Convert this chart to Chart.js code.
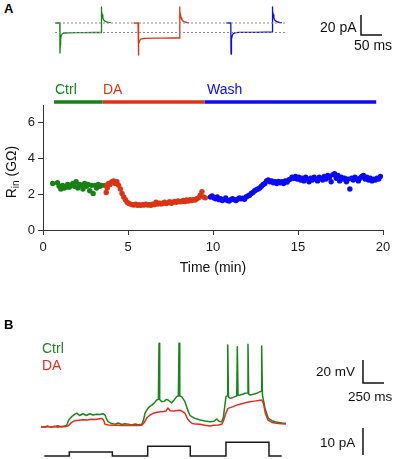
<!DOCTYPE html>
<html><head><meta charset="utf-8">
<script src="https://cdn.jsdelivr.net/npm/chart.js@4.4.1/dist/chart.umd.min.js"></script>
<style>
html,body{margin:0;padding:0;background:#fff;}
#fig{position:relative;width:397px;height:459px;overflow:hidden;background:#fff;font-family:"Liberation Sans",Arial,Helvetica,sans-serif;}
canvas{position:absolute;}
.t{position:absolute;white-space:nowrap;color:#111;}
</style></head>
<body><div id="fig">
<canvas id="cTop" width="352" height="62" style="left:45px;top:0px"></canvas>
<canvas id="cA" width="397" height="210" style="left:0px;top:70px"></canvas>
<canvas id="cB" width="367" height="129" style="left:30px;top:330px"></canvas>
</div>
<script>
// ---------------- DATA ----------------
// Panel A inset: voltage-clamp current sweeps (time relative to step onset, ms; current, pA)
const sweepNames = ['Ctrl', 'DA', 'Wash'];
const sweepOnset = [0, 186.4, 407.2];          // ms, sweep placement along the strip
const sweepTime = [-11, -0.5, 0, 0.6, 1.5, 3, 5, 8, 12, 20, 40, 60, 80, 98, 98.5, 99.2, 100.5, 102, 104, 107, 111, 116, 121];
const sweepCtrl = [0, 0, -30, -22, -16, -12.5, -11, -10.2, -10, -9.8, -9.7, -9.6, -9.5, -9.5, 16, 12, 8, 5, 3, 1.8, 1, 0.6, 0.4];
const sweepDA   = [0, 0, -32, -26, -21, -18, -16.5, -15.8, -15.5, -15.3, -15.2, -15.1, -15, -15, 16, 12, 8, 5, 3, 1.8, 1, 0.6, 0.4];
const sweepWash = [0, 0, -31, -23, -16, -12.5, -10.8, -10, -9.6, -9.4, -9.3, -9.3, -9.2, -9.2, 16, 12, 8, 5, 3, 1.8, 1, 0.6, 0.4];
const refLevels = [0, -9.5];                    // pA, dotted reference lines
const refSpan = [-11.9, 538];                   // ms
const insetBar = {pA: 20, ms: 50, atMs: 716.7, atPA: -12};

// Panel A main: input resistance over time
const ctrlTime = [0.57, 0.85, 0.95, 1.05, 1.15, 1.25, 1.35, 1.45, 1.55, 1.65, 1.75, 1.85, 1.95, 2.05, 2.15, 2.25, 2.35, 2.45, 2.55, 2.65, 2.75, 2.85, 2.95, 3.05, 3.15, 3.25, 3.35, 3.45];
const ctrlRin  = [2.6, 2.65, 2.45, 2.3, 2.5, 2.35, 2.4, 2.55, 2.4, 2.5, 2.6, 2.45, 2.7, 2.35, 2.55, 2.5, 2.3, 2.6, 2.45, 2.55, 2.2, 2.5, 2.05, 2.5, 2.35, 2.55, 2.45, 2.5];
const daTime = [3.65, 3.72, 3.78, 3.85, 3.95, 4.05, 4.15, 4.25, 4.35, 4.45, 4.55, 4.65, 4.75, 4.85, 4.95, 5.05, 5.15, 5.25, 5.35, 5.45, 5.55, 5.65, 5.75, 5.85, 5.95, 6.05, 6.15, 6.25, 6.35, 6.45, 6.55, 6.65, 6.75, 6.85, 6.95, 7.05, 7.15, 7.25, 7.35, 7.45, 7.55, 7.65, 7.75, 7.85, 7.95, 8.05, 8.15, 8.25, 8.35, 8.45, 8.55, 8.65, 8.75, 8.85, 8.95, 9.05, 9.15, 9.25, 9.35, 9.45, 9.55];
const daRin  = [2.5, 2.1, 2.35, 2.6, 2.55, 2.7, 2.75, 2.6, 2.7, 2.5, 2.3, 2.05, 1.85, 1.7, 1.55, 1.48, 1.45, 1.42, 1.4, 1.45, 1.38, 1.42, 1.38, 1.42, 1.4, 1.45, 1.4, 1.42, 1.38, 1.45, 1.42, 1.55, 1.45, 1.5, 1.45, 1.5, 1.55, 1.48, 1.52, 1.58, 1.5, 1.55, 1.6, 1.55, 1.62, 1.58, 1.6, 1.65, 1.6, 1.68, 1.62, 1.7, 1.65, 1.7, 1.68, 1.75, 1.8, 1.95, 2.15, 1.85, 1.8];
const washTime = [9.85, 9.95, 10.05, 10.15, 10.25, 10.35, 10.45, 10.55, 10.65, 10.75,
  10.85, 10.95, 11.05, 11.15, 11.25, 11.35, 11.45, 11.55, 11.65, 11.75,
  11.85, 11.95, 12.05, 12.15, 12.25, 12.35, 12.45, 12.55, 12.65, 12.75,
  12.85, 12.95, 13.05, 13.15, 13.25, 13.35, 13.45, 13.55, 13.65, 13.75,
  13.85, 13.95, 14.05, 14.15, 14.25, 14.35, 14.45, 14.55, 14.65, 14.75,
  14.85, 14.95, 15.05, 15.15, 15.25, 15.35, 15.45, 15.55, 15.65, 15.75,
  15.85, 15.95, 16.05, 16.15, 16.25, 16.35, 16.45, 16.55, 16.65, 16.75,
  16.85, 16.95, 17.05, 17.15, 17.25, 17.35, 17.45, 17.55, 17.65, 17.75,
  17.85, 17.95, 18.05, 18.15, 18.25, 18.35, 18.45, 18.55, 18.65, 18.75,
  18.85, 18.95, 19.05, 19.15, 19.25, 19.35, 19.45, 19.55, 19.65, 19.75,
  19.85];
const washRin = [1.85, 1.9, 1.8, 1.75, 1.85, 1.7, 1.75, 1.65, 1.7, 1.8,
  1.65, 1.62, 1.7, 1.75, 1.7, 1.65, 1.72, 1.8, 1.75, 1.78,
  1.72, 1.85, 1.9, 1.95, 2.05, 2.1, 2.2, 2.25, 2.3, 2.35,
  2.45, 2.55, 2.6, 2.75, 2.8, 2.7, 2.75, 2.65, 2.7, 2.6,
  2.72, 2.65, 2.7, 2.6, 2.75, 2.68, 2.8, 2.85, 2.95, 2.9,
  3.0, 2.85, 2.95, 2.8, 2.9, 2.75, 2.95, 2.85, 2.7, 2.9,
  2.8, 2.95, 2.85, 2.75, 2.95, 2.9, 2.8, 3.0, 2.85, 3.05,
  2.95, 2.7, 3.1, 3.15, 2.9, 3.05, 2.75, 2.95, 2.85, 2.9,
  2.7, 2.85, 2.3, 2.9, 2.8, 2.95, 2.85, 2.75, 2.9, 3.0,
  3.05, 2.85, 2.95, 2.8, 2.9, 2.75, 2.85, 2.8, 2.9, 2.85,
  3.0];
const phaseNames = ['Ctrl', 'DA', 'Wash'];
const phaseStart = [0.65, 3.5, 9.5];   // min
const phaseEnd   = [3.5, 9.5, 19.6];   // min
const xTicks = [0, 5, 10, 15, 20];
const yTicks = [0, 2, 4, 6];

// Panel B: current-clamp responses (time ms; membrane potential relative to rest, mV)
const ctrlVmTime = [0, 40, 80, 120, 160, 200, 240, 280, 306, 330, 365, 400, 425, 460, 500, 540, 580, 620, 660, 700, 740, 762, 780, 798, 840, 880, 920, 960, 1000, 1040, 1080, 1120, 1160, 1199, 1220, 1238, 1270, 1298, 1320, 1350, 1377, 1397, 1405, 1413, 1437, 1470, 1490, 1512, 1556, 1590, 1615, 1635, 1643, 1652, 1675, 1714, 1750, 1774, 1794, 1830, 1869, 1893, 1950, 2012, 2060, 2092, 2120, 2151, 2170, 2202, 2216, 2223, 2232, 2250, 2280, 2310, 2330, 2337, 2346, 2369, 2400, 2429, 2456, 2464, 2473, 2488, 2530, 2568, 2607, 2620, 2627, 2636, 2667, 2690, 2706, 2750, 2786, 2830, 2870, 2917];
const ctrlVm = [0.5, 0, 0.8, -0.3, 0.5, 1, 0.2, 0.8, 1.5, 6, 9, 11, 12, 10, 11.5, 10, 11.5, 10.5, 11, 10.8, 11.5, 10.4, 7, 4.6, 3, 2.5, 3.5, 2.2, 2.8, 2.5, 1.8, 2.6, 2, 2.3, 6, 12, 16, 18, 19, 21, 23.5, 24, 72.8, 24, 22, 22.5, 24, 23.5, 21, 24, 26.4, 27, 72.8, 27, 26.4, 22, 14, 10, 9, 7.5, 6.7, 6, 5.2, 4.6, 5, 7, 5, 4.6, 8, 26.4, 27, 71.3, 26, 25, 25.5, 26.4, 27, 69.8, 27.5, 27.8, 28.5, 29.3, 29.5, 71.9, 28.5, 27.8, 28.5, 29.3, 30.7, 31, 70.4, 28, 16.2, 11, 7.5, 5.5, 4.6, 4, 3.5, 3.2];
const daVmTime = [0, 40, 80, 120, 160, 200, 240, 280, 325, 365, 405, 450, 500, 550, 600, 650, 700, 723, 745, 762, 800, 850, 900, 950, 1000, 1050, 1100, 1150, 1199, 1230, 1260, 1298, 1340, 1380, 1420, 1460, 1490, 1512, 1540, 1580, 1620, 1660, 1675, 1714, 1745, 1774, 1800, 1840, 1893, 1950, 2012, 2060, 2110, 2151, 2170, 2200, 2226, 2280, 2330, 2380, 2430, 2488, 2540, 2590, 2627, 2650, 2670, 2702, 2750, 2806, 2860, 2917];
const daVm = [0.3, -0.3, 0.5, 0, 0.4, -0.2, 0.5, 0.2, 1, 4, 5.5, 5.8, 6.2, 6, 6.8, 6.6, 7.2, 7.5, 6, 2.3, 1.8, 1.5, 1.8, 1.3, 1.6, 1.2, 1.5, 1.3, 1.5, 4, 8, 10.4, 12, 12.8, 13.3, 13.5, 14, 16.5, 14.2, 14, 14.3, 14.5, 13.9, 12, 7, 4.6, 3, 2.5, 2.3, 1.5, 0.9, 1.5, 1.8, 2.3, 5, 12, 16.2, 17.5, 19, 20, 21, 22, 22.5, 23, 23.5, 20, 12, 6, 4, 3.2, 2.8, 2.6];
const injTime = [39, 337, 849, 1270, 1777, 2202, 2714, 2866];
const injPA   = [0, 1.5, 0, 3.6, 0, 5.1, 0, 0];
const bBar = {mV: 20, ms: 250, pA: 10, atMs: 3833, atMV: 38.26, atPA: 0.4};

// ---------------- STYLE ----------------
const FONT = '"Liberation Sans", Arial, Helvetica, sans-serif';
Chart.defaults.font.family = FONT;
Chart.defaults.animation = false;
const GREEN = '#168216', RED = '#dc3412', BLUE = '#0a0af5';
const B_GREEN = '#1a861a', B_RED = '#ea2a1e';
const noPlug = {legend: {display: false}, tooltip: {enabled: false}};
const pts = (xs, ys, off) => xs.map((x, i) => ({x: x + (off || 0), y: ys[i]}));
const lineDs = (data, color, w, extra) => Object.assign({type: 'line', data, borderColor: color, borderWidth: w, pointRadius: 0, fill: false, tension: 0, borderJoinStyle: 'round', clip: false}, extra || {});
const hidden = (min, max) => ({type: 'linear', display: false, min, max});

// ---------------- INSET (top) ----------------
const sweepColors = [GREEN, RED, BLUE];
const sweepVals = [sweepCtrl, sweepDA, sweepWash];
const topDs = [];
refLevels.forEach(l => topDs.push(lineDs([{x: refSpan[0], y: l}, {x: refSpan[1], y: l}], '#8c8c8c', 1, {borderDash: [2, 2]})));
sweepVals.forEach((v, i) => topDs.push(lineDs(pts(sweepTime, v, sweepOnset[i]), sweepColors[i], 1.3)));
topDs.push(lineDs([{x: insetBar.atMs, y: insetBar.atPA + insetBar.pA}, {x: insetBar.atMs, y: insetBar.atPA}, {x: insetBar.atMs + insetBar.ms, y: insetBar.atPA}], '#111', 1.5, {borderJoinStyle: 'miter'}));
new Chart(document.getElementById('cTop'), {
  type: 'line', data: {datasets: topDs},
  options: {responsive: false, devicePixelRatio: 1, animation: false, plugins: noPlug, layout: {padding: 0},
    scales: {x: hidden(-35.7, 802.4), y: hidden(-39, 23)}}
});

// ---------------- PANEL A main ----------------
const phaseColors = [GREEN, RED, BLUE];
const BAR_LEVEL = 7.17;
const aDs = [
  {type: 'scatter', data: pts(ctrlTime, ctrlRin), backgroundColor: GREEN, borderColor: GREEN, pointRadius: 2.7, pointBorderWidth: 0},
  {type: 'scatter', data: pts(daTime, daRin), backgroundColor: RED, borderColor: RED, pointRadius: 2.7, pointBorderWidth: 0},
  {type: 'scatter', data: pts(washTime, washRin), backgroundColor: BLUE, borderColor: BLUE, pointRadius: 2.7, pointBorderWidth: 0}
];
phaseNames.forEach((n, i) => aDs.push(lineDs([{x: phaseStart[i], y: BAR_LEVEL}, {x: phaseEnd[i], y: BAR_LEVEL}], phaseColors[i], 3.4, {borderCapStyle: 'butt'})));
const axisCommon = {
  grid: {drawOnChartArea: false, drawTicks: true, tickLength: 5, color: '#333', lineWidth: 1},
  border: {display: true, color: '#333', width: 1}
};
new Chart(document.getElementById('cA'), {
  type: 'scatter', data: {datasets: aDs},
  options: {responsive: false, devicePixelRatio: 1, animation: false, plugins: noPlug,
    layout: {padding: {top: 35, right: 14, left: 0, bottom: 0}},
    scales: {
      x: Object.assign({type: 'linear', min: xTicks[0], max: xTicks[xTicks.length - 1],
        ticks: {stepSize: 5, color: '#1a1a1a', font: {size: 13}, padding: 5, maxRotation: 0},
        afterBuildTicks: s => { s.ticks = xTicks.map(v => ({value: v})); },
        afterFit: s => { s.height = 50; }}, axisCommon),
      y: Object.assign({type: 'linear', min: 0, max: 7,
        ticks: {stepSize: 2, color: '#1a1a1a', font: {size: 13}, padding: 3},
        afterBuildTicks: s => { s.ticks = yTicks.map(v => ({value: v})); },
        afterFit: s => { s.width = 43; }}, axisCommon)
    }}
});

// ---------------- PANEL B ----------------
const bDs = [
  lineDs(pts(daVmTime, daVm), B_RED, 1.5, {yAxisID: 'yV'}),
  lineDs(pts(ctrlVmTime, ctrlVm), B_GREEN, 1.5, {yAxisID: 'yV'}),
  lineDs(pts(injTime, injPA), '#1a1a1a', 1.5, {yAxisID: 'yI', stepped: 'before', borderJoinStyle: 'miter'}),
  lineDs([{x: bBar.atMs, y: bBar.atMV + bBar.mV}, {x: bBar.atMs, y: bBar.atMV}, {x: bBar.atMs + bBar.ms, y: bBar.atMV}], '#111', 1.5, {yAxisID: 'yV', borderJoinStyle: 'miter'}),
  lineDs([{x: bBar.atMs, y: bBar.atPA}, {x: bBar.atMs, y: bBar.atPA + bBar.pA}], '#111', 1.5, {yAxisID: 'yI'})
];
new Chart(document.getElementById('cB'), {
  type: 'line', data: {datasets: bDs},
  options: {responsive: false, devicePixelRatio: 1, animation: false, plugins: noPlug, layout: {padding: 0},
    scales: {x: hidden(-131, 4238), yV: hidden(-27.83, 84.35), yI: hidden(-1.11, 46.67)}}
});

// ---------------- TEXT ----------------
const fig = document.getElementById('fig');
function txt(html, x, base, size, color, opt) {
  opt = opt || {};
  const d = document.createElement('div');
  d.className = 't';
  d.innerHTML = html;
  d.style.fontSize = size + 'px';
  d.style.lineHeight = size + 'px';
  d.style.color = color || '#111';
  if (opt.bold) d.style.fontWeight = 'bold';
  d.style.top = (base - 0.8465 * size) + 'px';
  d.style.left = x + 'px';
  if (opt.center) d.style.transform = 'translateX(-50%)';
  fig.appendChild(d);
  return d;
}
txt('A', 4, 13, 13, '#000', {bold: true});
txt('20 pA', 320, 32, 14);
txt('50 ms', 354, 50, 14);
txt(phaseNames[0], 55, 94, 14, GREEN);
txt(phaseNames[1], 103, 94, 14, RED);
txt(phaseNames[2], 207, 94, 14, BLUE);
txt('Time (min)', 213, 272, 14, '#111', {center: true});
const yt = document.createElement('div');
yt.className = 't';
yt.style.cssText = 'font-size:14px;line-height:14px;left:13px;top:172px;transform:translate(-50%,-50%) rotate(-90deg);color:#111;';
yt.innerHTML = 'R<sub style="font-size:10px;vertical-align:-3px">in</sub> (G&Omega;)';
fig.appendChild(yt);
txt('B', 4, 329, 13, '#000', {bold: true});
txt('Ctrl', 42, 353, 14, B_GREEN);
txt('DA', 42, 370, 14, B_RED);
txt('20 mV', 316, 376, 13.5);
txt('250 ms', 348, 401, 13.5);
txt('10 pA', 320, 447, 13.5);
</script>
</body></html>
